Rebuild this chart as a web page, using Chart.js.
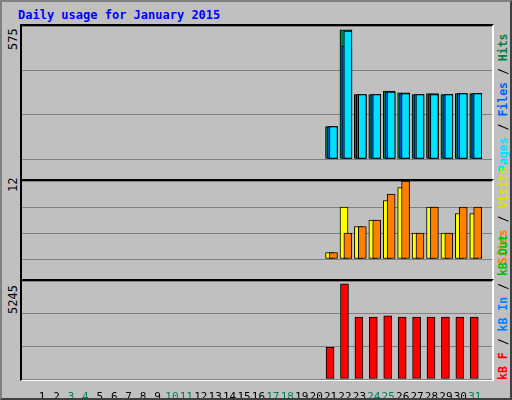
<!DOCTYPE html>
<html><head><meta charset="utf-8">
<script src="https://cdn.jsdelivr.net/npm/chart.js@4"></script>
<style>
body{margin:0;background:#fff}
#w{position:relative;width:508px;height:396px;background:#c0c0c0;border:2px solid #808080;border-right-color:#404040;border-bottom-color:#404040;overflow:hidden;font-family:"DejaVu Sans Mono",monospace}
.p{position:absolute;left:18px;width:470px;border-top:2px solid #000;border-left:2px solid #000;border-bottom:1px solid #fff;border-right:2px solid #fff}
canvas{position:absolute}
.v{position:absolute;transform-origin:0 0;transform:rotate(-90deg);white-space:nowrap;font-size:12px}
.r{position:absolute;transform-origin:0 0;transform:rotate(-90deg);white-space:nowrap;font-size:11.5px;font-weight:bold}
</style></head><body>
<div id="w">
<div style="position:absolute;left:16px;top:6px;color:#0000ff;font-weight:bold;font-size:12px">Daily usage for January 2015</div>
<div class="p" style="top:22px;height:154px"></div>
<div class="p" style="top:177px;height:99px"></div>
<div class="p" style="top:277px;height:99px"></div>
<div class="v" style="left:4px;top:48px">575</div>
<div class="v" style="left:4px;top:190px">12</div>
<div class="v" style="left:4px;top:312px">5245</div>
<div class="r" style="left:494px;top:170px"><span style="color:#00e0ff">Pages</span> / <span style="color:#0060ff">Files</span> / <span style="color:#008040">Hits</span></div>
<div class="r" style="left:494px;top:262px"><span style="color:#ff8000">Sites</span> / <span style="color:#e0e000">Visits</span></div>
<div class="r" style="left:494px;top:378px"><span style="color:#ff0000">kB F</span> / <span style="color:#0080ff">kB In</span> / <span style="color:#00c000">kB Out</span></div>
<canvas id="c1" style="left:20px;top:24px;width:470px;height:153px"></canvas>
<canvas id="c2" style="left:20px;top:179px;width:470px;height:98px"></canvas>
<canvas id="c3" style="left:20px;top:279px;width:470px;height:118px"></canvas>
</div>
<script>
const days=[1,2,3,4,5,6,7,8,9,10,11,12,13,14,15,16,17,18,19,20,21,22,23,24,25,26,27,28,29,30,31];
const weekend=[3,4,10,11,17,18,24,25,31];
const activeDays=[21,22,23,24,25,26,27,28,29,30,31];
const hits=[144,575,287,287,302,295,287,291,287,291,291];
const files=[144,503,287,287,298,291,287,287,287,291,291];
const pages=[144,570,287,287,298,291,287,287,287,291,291];
const visits=[1,8,5,6,9,11,4,8,4,7,7];
const sites=[1,4,5,6,10,12,4,8,4,8,8];
const kbF=[1748,5245,3420,3420,3480,3420,3420,3420,3420,3420,3420];
const maxTop=575,maxMid=12,maxBot=5245;
const PX=14.9;
function pts(v,off){return activeDays.map((d,i)=>({x:d+off/PX,y:v[i]}));}
function ds(v,off,w,col){return {data:pts(v,off),backgroundColor:col,borderColor:'#000',borderWidth:1,barThickness:w,grouped:false,borderSkipped:false};}
function xs(show){return {type:'linear',min:0.13,max:31.67,display:show,grid:{display:false},border:{display:false},
 afterBuildTicks:s=>{s.ticks=days.map(v=>({value:v}));},
 afterFit:s=>{s.height=20;},
 ticks:{autoSkip:false,maxRotation:0,padding:4,color:c=>weekend.includes(c.tick.value)?'#008060':'#000',font:{family:'DejaVu Sans Mono',size:11},callback:v=>String(v)}};}
function ys(max){return {min:0,max:max,display:true,ticks:{display:false,stepSize:max/3},border:{display:false},grid:{color:'#808080',lineWidth:1,drawTicks:false}};}
function mk(id,sets,max,showX){new Chart(document.getElementById(id),{type:'bar',data:{datasets:sets},
 options:{responsive:false,animation:false,events:[],layout:{padding:0},plugins:{legend:{display:false},tooltip:{enabled:false}},scales:{x:xs(showX),y:ys(max)}}});}
mk('c1',[ds(pages,3,8,'#00e0ff'),ds(files,2,10,'#0060ff'),ds(hits,1,12,'#008040')],maxTop*1.03,false);
mk('c2',[ds(sites,3,8,'#ff8000'),ds(visits,-1,8,'#ffff00')],maxMid,false);
mk('c3',[ds(kbF,-0.5,8,'#ff0000')],maxBot*1.03,true);
</script></body></html>
